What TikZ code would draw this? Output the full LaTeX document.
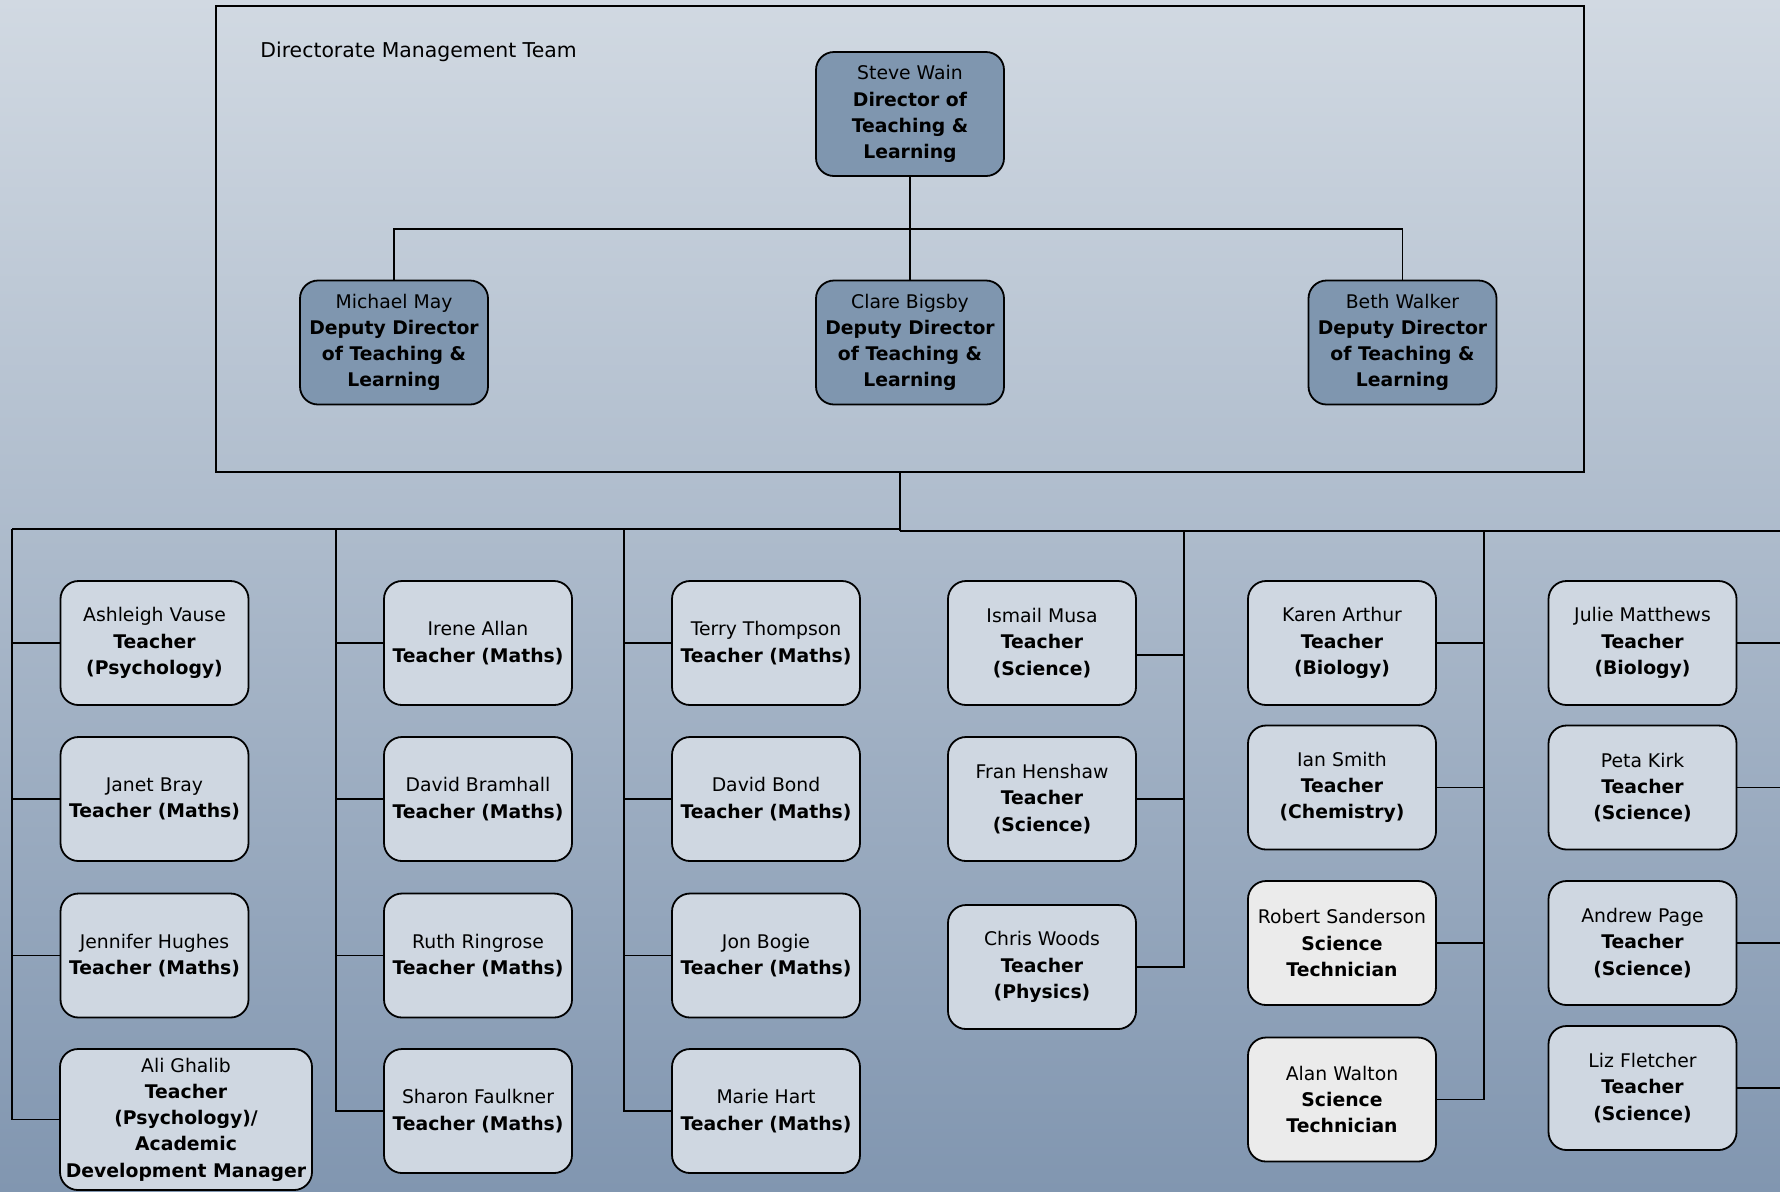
\documentclass[tikz,border=0pt]{standalone}
\usepackage{fontspec}
\setmainfont{DejaVu Sans}

\definecolor{bgtop}{RGB}{209,217,226}
\definecolor{bgmid}{RGB}{178,190,205}
\definecolor{bgbot}{RGB}{129,150,176}
\definecolor{dirfill}{RGB}{127,150,175}
\definecolor{stafffill}{RGB}{207,215,225}
\definecolor{techfill}{RGB}{235,235,235}

\tikzset{
  box/.style={draw,line width=0.9pt,rounded corners=9pt,align=center,inner sep=2pt,
    minimum width=94pt,minimum height=62pt,font=\fontsize{9.4}{13.1}\selectfont},
  director/.style={box,fill=dirfill},
  staff/.style={box,fill=stafffill},
  tech/.style={box,fill=techfill},
  link/.style={line width=0.75pt},
  bus/.style={line width=1.3pt}
}

\begin{document}
\begin{tikzpicture}[x=0.5pt,y=-0.5pt]
\shade[top color=bgtop,middle color=bgmid,bottom color=bgbot] (0,0) rectangle (1780,1191);
\useasboundingbox (0,0) rectangle (1780,1191);

% management team
\node[draw,line width=1pt,minimum width=684pt,minimum height=233pt,inner sep=0pt] (dmt) at (900,239) {};
\node[anchor=base west,inner sep=0pt,font=\fontsize{10.2}{12}\selectfont] (title) at (260,57) {Directorate Management Team};
\node[director] (steve) at (910,114) {Steve Wain\\\textbf{Director of}\\\textbf{Teaching \&}\\\textbf{Learning}};
\node[director] (michael) at (394,342.5) {Michael May\\\textbf{Deputy Director}\\\textbf{of Teaching \&}\\\textbf{Learning}};
\node[director] (clare) at (910,342.5) {Clare Bigsby\\\textbf{Deputy Director}\\\textbf{of Teaching \&}\\\textbf{Learning}};
\node[director] (beth) at (1402.5,342.5) {Beth Walker\\\textbf{Deputy Director}\\\textbf{of Teaching \&}\\\textbf{Learning}};
\coordinate (fork) at (910,229);
\draw[bus] (steve) -- (fork);
\draw[link] (michael.north) |- (fork) -| (beth.north);
\draw[link] (fork) -- (clare);

% bus to the staff
\coordinate (busL) at (12,529);
\coordinate (busR) at (1780,531);
\draw[bus] (dmt.south) -- (dmt.south |- busR);
\draw[bus] (busL) -- (busL -| dmt.south);
\draw[bus] (busR -| dmt.south) -- (busR);
\coordinate (cA) at (12,529);
\coordinate (cB) at (336,529);
\coordinate (cC) at (624,529);
\coordinate (cD) at (1184,531);
\coordinate (cE) at (1484,531);
\coordinate (edge) at (1780,531);

\node[staff] (ashleigh) at (154.5,643) {Ashleigh Vause\\\textbf{Teacher}\\\textbf{(Psychology)}};
\node[staff] (janet) at (154.5,799) {Janet Bray\\\textbf{Teacher (Maths)}};
\node[staff] (jennifer) at (154.5,955.5) {Jennifer Hughes\\\textbf{Teacher (Maths)}};
\node[staff,minimum width=126pt,minimum height=70.5pt] (ali) at (186,1119.5) {Ali Ghalib\\\textbf{Teacher}\\\textbf{(Psychology)/}\\\textbf{Academic}\\\textbf{Development Manager}};

\node[staff] (irene) at (478,643) {Irene Allan\\\textbf{Teacher (Maths)}};
\node[staff] (bramhall) at (478,799) {David Bramhall\\\textbf{Teacher (Maths)}};
\node[staff] (ruth) at (478,955.5) {Ruth Ringrose\\\textbf{Teacher (Maths)}};
\node[staff] (sharon) at (478,1111) {Sharon Faulkner\\\textbf{Teacher (Maths)}};

\node[staff] (terry) at (766,643) {Terry Thompson\\\textbf{Teacher (Maths)}};
\node[staff] (bond) at (766,799) {David Bond\\\textbf{Teacher (Maths)}};
\node[staff] (bogie) at (766,955.5) {Jon Bogie\\\textbf{Teacher (Maths)}};
\node[staff] (marie) at (766,1111) {Marie Hart\\\textbf{Teacher (Maths)}};

\node[staff] (ismail) at (1042,643) {Ismail Musa\\\textbf{Teacher}\\\textbf{(Science)}};
\node[staff] (fran) at (1042,799) {Fran Henshaw\\\textbf{Teacher}\\\textbf{(Science)}};
\node[staff] (chris) at (1042,967) {Chris Woods\\\textbf{Teacher}\\\textbf{(Physics)}};

\node[staff] (karen) at (1342,643) {Karen Arthur\\\textbf{Teacher}\\\textbf{(Biology)}};
\node[staff] (ian) at (1342,787.5) {Ian Smith\\\textbf{Teacher}\\\textbf{(Chemistry)}};
\node[tech] (robert) at (1342,943) {Robert Sanderson\\\textbf{Science}\\\textbf{Technician}};
\node[tech] (alan) at (1342,1099.5) {Alan Walton\\\textbf{Science}\\\textbf{Technician}};

\node[staff] (julie) at (1642.5,643) {Julie Matthews\\\textbf{Teacher}\\\textbf{(Biology)}};
\node[staff] (peta) at (1642.5,787.5) {Peta Kirk\\\textbf{Teacher}\\\textbf{(Science)}};
\node[staff] (andrew) at (1642.5,943) {Andrew Page\\\textbf{Teacher}\\\textbf{(Science)}};
\node[staff] (liz) at (1642.5,1088) {Liz Fletcher\\\textbf{Teacher}\\\textbf{(Science)}};

% connectors
\draw[link] (cA) |- (ali.west);
\foreach \n in {ashleigh,janet,jennifer}
  \draw[link] (\n.west) -- (\n.west -| cA);
\draw[link] (cB) |- (sharon.west);
\foreach \n in {irene,bramhall,ruth}
  \draw[link] (\n.west) -- (\n.west -| cB);
\draw[link] (cC) |- (marie.west);
\foreach \n in {terry,bond,bogie}
  \draw[link] (\n.west) -- (\n.west -| cC);
\draw[link] (cD) |- (chris.east);
\draw[link] ([yshift=-6pt]ismail.east) -- ([yshift=-6pt]ismail.east -| cD);
\draw[link] (fran.east) -- (fran.east -| cD);
\draw[link] (cE) |- (alan.east);
\draw[bus] (cE) -- (cE |- karen.east);
\foreach \n in {karen,ian,robert}
  \draw[link] (\n.east) -- (\n.east -| cE);
\foreach \n in {julie,peta,andrew,liz}
  \draw[link] (\n.east) -- (\n.east -| edge);
\end{tikzpicture}
\end{document}
